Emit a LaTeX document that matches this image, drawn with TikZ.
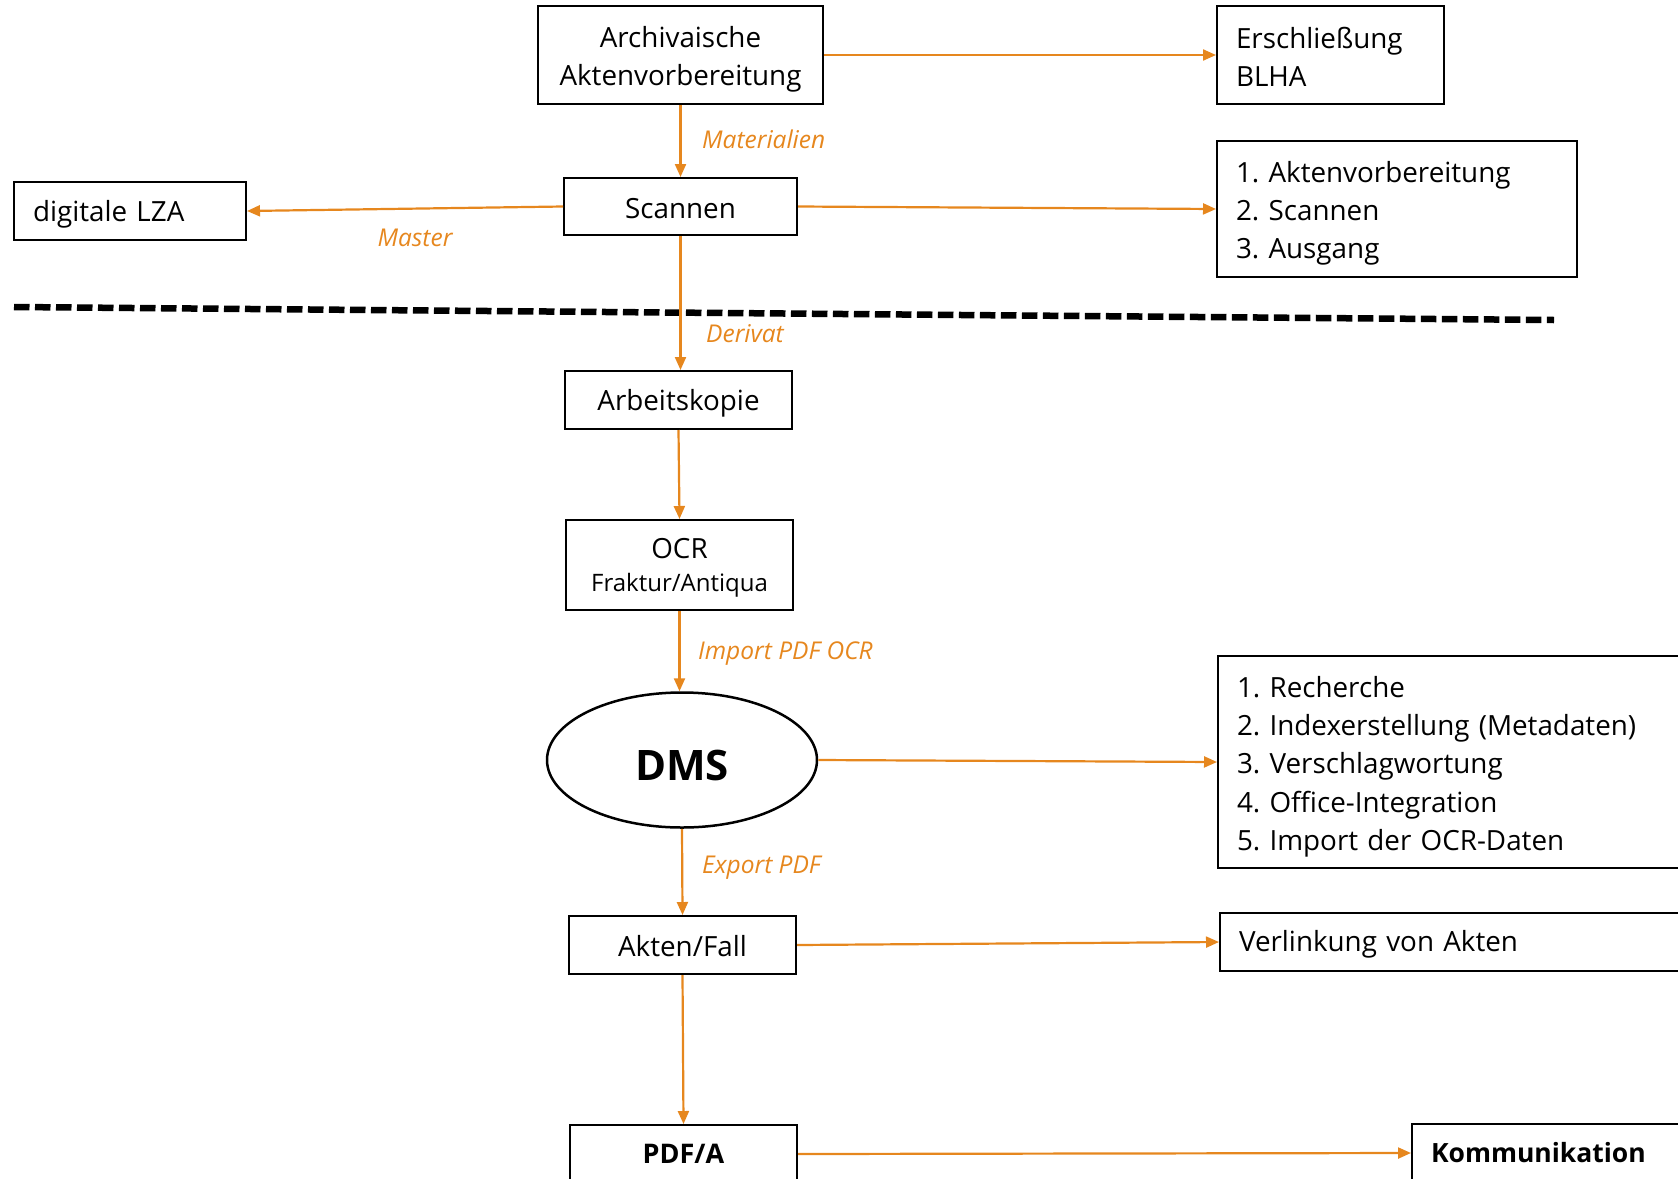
\documentclass[tikz,border=0pt]{standalone}
\usepackage{fontspec}
\setmainfont{Open Sans}
\usetikzlibrary{arrows.meta,shapes.geometric}
\definecolor{flow}{RGB}{230,135,30}
\newcommand\tstrut[1]{\rule{0pt}{#1pt}}
\frenchspacing
\tikzset{
  box/.style={draw=black, line width=2pt, minimum height=58pt, inner sep=0pt,
    font=\fontsize{27.8}{38.3}\selectfont, align=center},
  lbox/.style={box, align=left, inner xsep=19pt},
  flowarrow/.style={draw=flow, line width=2.2pt, -{Triangle[length=13pt,width=11pt]}},
  flowlabel/.style={text=flow, font=\fontsize{24.5}{28}\selectfont\itshape, inner sep=0pt}
}
\begin{document}
\begin{tikzpicture}[x=1pt,y=-1pt]
\useasboundingbox (0,0) rectangle (1678,1178);
\clip (0,0) rectangle (1678,1178);
% separator
\draw[line width=6.5pt, dash pattern=on 15.5pt off 5.5pt] (14,307) -- (1554,320);
% nodes
\node[box, minimum width=285pt, minimum height=98pt] (arch) at (680.5,55) {\tstrut{29}Archivaische\\Aktenvorbereitung};
\node[lbox, minimum width=227pt, minimum height=98pt, text width=189pt] (ersch) at (1330.5,55) {\tstrut{25}Erschließung\\BLHA};
\node[box, minimum width=233pt, minimum height=57pt] (scan) at (680.5,206.5) {\tstrut{25}Scannen};
\node[lbox, minimum width=360pt, minimum height=136pt, text width=322pt] (list1) at (1397,209) {\tstrut{29.5}1. Aktenvorbereitung\\2. Scannen\\3. Ausgang};
\node[lbox, minimum width=232pt, text width=194pt] (lza) at (130,211) {\tstrut{27}digitale LZA};
\node[box, minimum width=227pt] (arbeit) at (678.5,400) {\tstrut{27.5}Arbeitskopie};
\node[box, minimum width=227pt, minimum height=90pt] (ocr) at (679.5,565) {\tstrut{26}OCR\\[-5pt]{\fontsize{24}{28}\selectfont Fraktur/Antiqua}};
\node[draw=black, line width=2.5pt, ellipse, minimum width=270pt, minimum height=135pt, inner sep=0pt,
  font=\fontsize{42}{50}\selectfont\bfseries] (dms) at (682,760) {\tstrut{41}DMS};
\node[lbox, minimum width=482pt, minimum height=212pt, text width=444pt] (list2) at (1459,762) {\tstrut{30.5}1. Recherche\\2. Indexerstellung (Metadaten)\\3. Verschlagwortung\\4. Office-Integration\\5. Import der OCR-Daten};
\node[box, minimum width=227pt] (akten) at (682.5,945) {\tstrut{24}Akten/Fall};
\node[lbox, minimum width=500pt, text width=462pt] (verl) at (1470,942) {\tstrut{26}Verlinkung von Akten};
\node[box, minimum width=227pt, font=\fontsize{27}{37.5}\selectfont\bfseries] (pdfa) at (683.5,1154) {PDF/A};
\node[lbox, minimum width=308pt, text width=270pt, font=\fontsize{26.5}{37.5}\selectfont\bfseries] (komm) at (1566,1153) {Kommunikation};
% connectors
\draw[flowarrow] (arch.east) -- (ersch.west);
\draw[flowarrow] (arch.south) -- (scan.north);
\draw[flowarrow] (scan.west) -- (lza.east);
\draw[flowarrow] (scan.east) -- (list1.west);
\draw[flowarrow] (scan.south) -- (scan.south |- arbeit.north);
\draw[flowarrow] (arbeit.south) -- (ocr.north);
\draw[flowarrow] (ocr.south) -- (ocr.south |- dms.north);
\draw[flowarrow] (dms.east) -- (list2.west);
\draw[flowarrow] (dms.south) -- (akten.north);
\draw[flowarrow] (akten.east) -- (verl.west);
\draw[flowarrow] (akten.south) -- (pdfa.north);
\draw[flowarrow] (pdfa.east) -- (komm.west);
% labels
\node[flowlabel, anchor=west] (lmat) at (702,139) {Materialien};
\node[flowlabel] (lmas) at (415,238) {Master};
\node[flowlabel, anchor=west] (lder) at (706,334) {Derivat};
\node[flowlabel, anchor=west] (limp) at (698,654) {Import PDF OCR};
\node[flowlabel, anchor=west] (lexp) at (702,868) {Export PDF};
\end{tikzpicture}
\end{document}
